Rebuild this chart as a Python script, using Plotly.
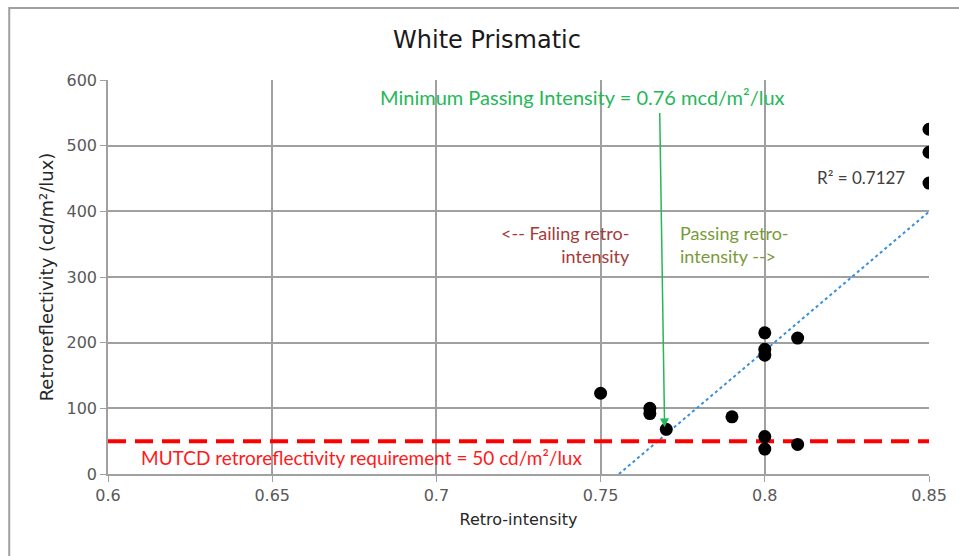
import numpy as np
import plotly.graph_objects as go

# Data
retro_intensity = [0.75, 0.765, 0.765, 0.77, 0.79, 0.80, 0.80, 0.80, 0.81, 0.80, 0.80, 0.81, 0.85, 0.85, 0.85]
retroreflectivity = [123, 100, 92, 68, 87, 215, 190, 181, 207, 57, 38, 45, 525, 490, 443]
mutcd_requirement = 50
min_passing_intensity = 0.76
r_squared_label = "R² = 0.7127"
x_ticks = [0.6, 0.65, 0.7, 0.75, 0.8, 0.85]
y_ticks = [0, 100, 200, 300, 400, 500, 600]

x = np.array(retro_intensity)
y = np.array(retroreflectivity)
slope, intercept = np.polyfit(x, y, 1)
tx = np.linspace(x.min(), x.max(), 200)
ty = slope * tx + intercept

fig = go.Figure()

# Trendline
fig.add_trace(go.Scatter(x=tx, y=ty, mode="lines",
                         line=dict(color="#3a8fd8", width=2, dash="dot"),
                         hoverinfo="skip", showlegend=False))
# MUTCD line
fig.add_trace(go.Scatter(x=[0.6, 0.85], y=[mutcd_requirement, mutcd_requirement], mode="lines",
                         line=dict(color="#ff0000", width=4, dash="18px,9px"),
                         showlegend=False, hoverinfo="skip"))
# Points
fig.add_trace(go.Scatter(x=x, y=y, mode="markers",
                         marker=dict(color="black", size=13),
                         showlegend=False))

ann_font = "Lato, Noto Sans, sans-serif"
fig.add_annotation(x=0.7695, y=68, ax=0.768, ay=552, xref="x", yref="y", axref="x", ayref="y",
                   showarrow=True, arrowhead=2, arrowsize=1.2, arrowwidth=1.5, arrowcolor="#25b858",
                   text="", standoff=2)
fig.add_annotation(x=0.7445, y=574, xref="x", yref="y", showarrow=False,
                   text="Minimum Passing Intensity = 0.76 mcd/m²/lux",
                   font=dict(family=ann_font, size=20, color="#25b858"))
fig.add_annotation(x=0.7595, y=350, xref="x", yref="y", showarrow=False, xanchor="right", align="right",
                   text="<-- Failing retro-<br>intensity",
                   font=dict(family=ann_font, size=18, color="#a63a3a"))
fig.add_annotation(x=0.7735, y=350, xref="x", yref="y", showarrow=False, xanchor="left", align="left",
                   text="Passing retro-<br>intensity -->",
                   font=dict(family=ann_font, size=18, color="#7a9a3a"))
fig.add_annotation(x=0.6095, y=25, xref="x", yref="y", showarrow=False, xanchor="left",
                   text="MUTCD retroreflectivity requirement = 50 cd/m²/lux",
                   font=dict(family=ann_font, size=19, color="#ff1a1a"))
fig.add_annotation(x=0.8432, y=451, xref="x", yref="y", showarrow=False, xanchor="right",
                   text=r_squared_label,
                   font=dict(family=ann_font, size=17, color="#404040"))

# Outer chart border (left & top visible)
fig.add_shape(type="rect", xref="paper", yref="paper",
              x0=-0.1203, x1=1.06, y0=-0.25, y1=1.1827,
              line=dict(color="#a0a0a0", width=2), layer="below")

tick_font = "DejaVu Sans, Verdana, sans-serif"
axis_common = dict(showgrid=True, gridcolor="#a0a0a0", gridwidth=1.5,
                   showline=True, linecolor="#a0a0a0", linewidth=1.5,
                   ticks="outside", tickcolor="#a0a0a0", ticklen=6, zeroline=False,
                   tickfont=dict(family=tick_font, size=16, color="#595959"))

fig.update_xaxes(range=[0.6, 0.85], tickvals=x_ticks, ticktext=[f"{v:g}" for v in x_ticks],
                 title=dict(text="Retro-intensity", font=dict(family=tick_font, size=16, color="#262626"), standoff=10),
                 mirror=False, **axis_common)
fig.update_yaxes(range=[0, 600], tickvals=y_ticks,
                 title=dict(text="Retroreflectivity (cd/m²/lux)", font=dict(family=tick_font, size=18, color="#262626"), standoff=8),
                 **axis_common)

fig.update_layout(
    width=959, height=556,
    margin=dict(l=108, r=28, t=80, b=82),
    paper_bgcolor="white", plot_bgcolor="white",
    title=dict(text="White Prismatic", x=487 / 959, xanchor="center", y=1 - 40 / 556, yanchor="middle",
               font=dict(family=tick_font, size=24, color="#1a1a1a")),
)

fig.write_html("out.html")
